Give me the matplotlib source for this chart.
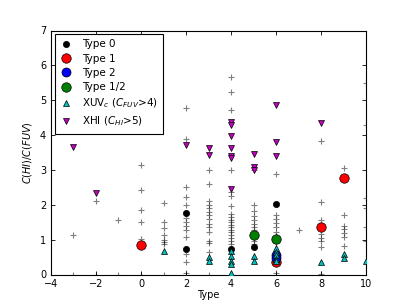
import matplotlib
matplotlib.use("Agg")
import matplotlib.pyplot as plt
import numpy as np

# ---- data ----
cross_x = ([-3]*2 + [-2]*2 + [-1]*2 + [0]*6 + [1]*8 + [2]*13 + [3]*15 + [4]*19 +
           [5]*11 + [6]*9 + [7]*1 + [8]*8 + [9]*7 + [10]*6)
cross_y = ([1.12, 0] + [2.1, 0] + [1.57, 0] +
           [3.15, 2.42, 1.85, 1.52, 1.03, 0] +
           [2.05, 1.5, 1.33, 1.12, 1.0, 0.93, 0.88, 0] +
           [4.79, 3.89, 2.5, 2.22, 1.98, 1.62, 1.5, 1.4, 1.28, 1.07, 0.6, 0.37, 0.03] +
           [3.0, 2.6, 2.12, 2.0, 1.9, 1.8, 1.7, 1.6, 1.45, 1.36, 1.22, 0.97, 0.9, 0.65, 0] +
           [5.67, 5.25, 4.73, 3.0, 2.36, 2.26, 1.96, 1.75, 1.64, 1.55, 1.5, 1.42, 1.36,
            1.28, 1.21, 1.12, 1.05, 0.97, 0.88] +
           [3.0, 1.98, 1.83, 1.69, 1.55, 1.45, 1.36, 1.27, 1.05, 0.95, 0.88] +
           [2.88, 1.72, 1.58, 1.47, 1.35, 1.22, 1.1, 0.9, 0.04] +
           [1.28] +
           [3.84, 2.07, 1.57, 1.17, 1.04, 0.95, 0.78, 0.02] +
           [3.06, 1.71, 1.4, 1.31, 1.19, 1.07, 0.81] +
           [5.5, 4.3, 2.2, 1.9, 1.35, 0.95])

type0_x = [2, 2, 4, 5, 6]
type0_y = [1.77, 0.72, 0.72, 0.78, 2.02]
type1_x = [0, 6, 8, 9]
type1_y = [0.85, 0.37, 1.37, 2.77]
type2_x = [6, 6]
type2_y = [0.57, 0.47]
type12_x = [5, 6]
type12_y = [1.14, 1.03]
xuv_x = [1, 3, 3, 4, 4, 4, 4, 4, 5, 5, 6, 6, 6, 6, 6, 8, 9, 9, 10]
xuv_y = [0.68, 0.5, 0.4, 0.66, 0.53, 0.4, 0.3, 0.03, 0.52, 0.4,
         0.75, 0.65, 0.55, 0.45, 0.38, 0.36, 0.6, 0.47, 0.4]
xhi_x = [-3, -2, 2, 3, 3, 4, 4, 4, 4, 4, 4, 4, 5, 5, 5, 6, 6, 6, 8]
xhi_y = [3.66, 2.33, 3.72, 3.63, 3.43, 4.38, 4.29, 3.98, 3.63, 3.39, 3.33, 2.45,
         3.46, 3.07, 3.0, 4.87, 3.81, 3.4, 4.36]

labels = ["Type 0", "Type 1", "Type 2", "Type 1/2",
          r"XUV$_c$ ($C_{FUV}$>4)", r"XHI ($C_{HI}$>5)"]

fig = plt.figure(figsize=(4.07, 3.05), dpi=100)
ax = fig.add_axes([0.125, 0.1, 0.775, 0.8])

ax.plot(cross_x, cross_y, '+', color='k', alpha=0.5, markersize=4, mew=0.8, zorder=1)

ekw = dict(linestyle='none', markeredgecolor='k', markeredgewidth=0.5)
ax.plot(type0_x, type0_y, 'o', color='k', markersize=4.5, label=labels[0], zorder=3, **ekw)
ax.plot(type1_x, type1_y, 'o', color='#FF0000', markersize=6.8, label=labels[1], zorder=2, **ekw)
ax.plot(type2_x, type2_y, 'o', color='#0000FF', markersize=6.5, label=labels[2], zorder=2.5, **ekw)
ax.plot(type12_x, type12_y, 'o', color='#008000', markersize=6.8, label=labels[3], zorder=3, **ekw)
ax.plot(xuv_x, xuv_y, '^', color='#00BFBF', markersize=4.5, label=labels[4], zorder=4, **ekw)
ax.plot(xhi_x, xhi_y, 'v', color='#BF00BF', markersize=4.5, label=labels[5], zorder=4, **ekw)

ax.set_xlim(-4, 10)
ax.set_ylim(0, 7)
ax.set_xticks(np.arange(-4, 11, 2))
ax.set_yticks(np.arange(0, 8, 1))
ax.tick_params(direction='in', top=True, right=True, labelsize=7, length=3, width=0.6)
ax.tick_params(axis='x', pad=3)
ax.tick_params(axis='y', pad=3.5)
for s in ax.spines.values():
    s.set_linewidth(0.8)
ax.set_xlabel("Type", fontsize=7, labelpad=1)
ax.set_ylabel(r"$C(HI)/C(FUV)$", fontsize=7, labelpad=4)

leg = ax.legend(loc='upper left', fontsize=7.5, numpoints=1, handlelength=1.2,
                handletextpad=0.9, borderpad=0.5, labelspacing=0.42,
                fancybox=False, framealpha=1, borderaxespad=0.35)
leg.get_frame().set_edgecolor('k')
leg.get_frame().set_linewidth(0.8)

fig.savefig("out.png", dpi=100)
